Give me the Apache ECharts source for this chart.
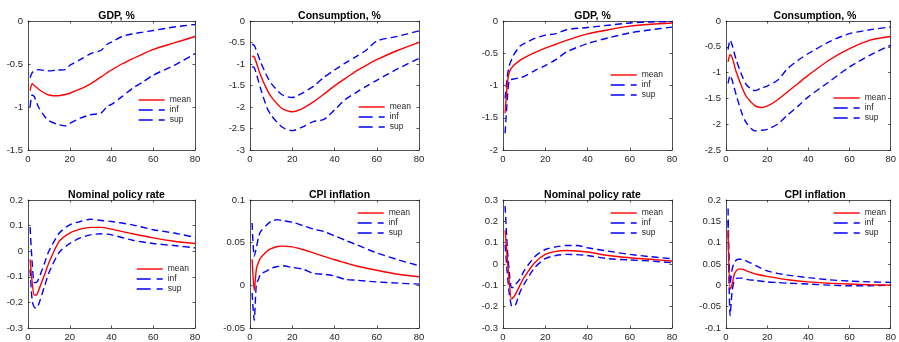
<!DOCTYPE html>
<html>
<head>
<meta charset="utf-8">
<script src="https://cdn.jsdelivr.net/npm/echarts@6/dist/echarts.min.js"></script>
<style>html,body{margin:0;padding:0;background:#fff}#c{width:899px;height:342px}</style>
</head>
<body>
<div id="c"></div>
<script>
// ---- Data (horizon, mean, upper band "inf", lower band "sup") ----
const gdpA_x    = [1, 2, 3, 5, 8, 10, 14, 18, 20, 25, 30, 35, 38, 40, 45, 50, 55, 60, 70, 80];
const gdpA_mean = [-0.81, -0.73, -0.75, -0.79, -0.84, -0.86, -0.87, -0.855, -0.84, -0.79, -0.73, -0.65, -0.6, -0.57, -0.5, -0.44, -0.385, -0.33, -0.255, -0.18];
const gdpA_inf  = [-0.66, -0.6, -0.58, -0.565, -0.575, -0.58, -0.57, -0.565, -0.515, -0.45, -0.38, -0.34, -0.27, -0.245, -0.18, -0.15, -0.13, -0.11, -0.07, -0.04];
const gdpA_sup  = [-1.0, -0.86, -0.88, -1.0, -1.11, -1.16, -1.2, -1.22, -1.19, -1.13, -1.09, -1.07, -0.99, -0.97, -0.88, -0.785, -0.71, -0.63, -0.515, -0.38];

const conA_x    = [1, 2, 5, 8, 10, 15, 20, 25, 30, 35, 40, 45, 50, 55, 60, 70, 80];
const conA_mean = [-0.82, -0.835, -1.26, -1.59, -1.76, -2.03, -2.11, -2.03, -1.88, -1.7, -1.51, -1.34, -1.17, -1.03, -0.9, -0.68, -0.495];
const conA_inf  = [-0.54, -0.565, -0.95, -1.28, -1.45, -1.71, -1.78, -1.67, -1.52, -1.31, -1.14, -0.98, -0.835, -0.68, -0.465, -0.355, -0.23];
const conA_sup  = [-1.07, -1.08, -1.57, -2.01, -2.19, -2.46, -2.55, -2.46, -2.34, -2.29, -2.07, -1.83, -1.67, -1.52, -1.38, -1.11, -0.87];

const gdpB_x    = [1, 2, 3, 5, 8, 10, 15, 20, 25, 30, 40, 50, 60, 70, 80];
const gdpB_mean = [-1.43, -0.99, -0.79, -0.69, -0.61, -0.57, -0.49, -0.42, -0.36, -0.3, -0.2, -0.135, -0.08, -0.05, -0.03];
const gdpB_inf  = [-1.2, -0.87, -0.69, -0.53, -0.39, -0.35, -0.27, -0.22, -0.195, -0.135, -0.1, -0.065, -0.03, -0.015, -0.01];
const gdpB_sup  = [-1.74, -1.23, -0.92, -0.9, -0.88, -0.86, -0.77, -0.69, -0.6, -0.48, -0.35, -0.26, -0.185, -0.135, -0.095];

const conB_x    = [1, 2, 3, 5, 8, 10, 14, 17, 20, 25, 30, 35, 40, 50, 60, 70, 80];
const conB_mean = [-0.79, -0.65, -0.71, -0.99, -1.31, -1.47, -1.64, -1.675, -1.65, -1.53, -1.37, -1.21, -1.05, -0.76, -0.535, -0.37, -0.3];
const conB_inf  = [-0.555, -0.37, -0.47, -0.76, -1.08, -1.24, -1.35, -1.3, -1.26, -1.15, -0.92, -0.76, -0.63, -0.405, -0.245, -0.17, -0.115];
const conB_sup  = [-1.21, -1.05, -1.15, -1.44, -1.82, -1.98, -2.13, -2.12, -2.1, -2.0, -1.82, -1.65, -1.47, -1.18, -0.89, -0.66, -0.47];

const rateA_x    = [1, 2, 3, 4, 5, 8, 10, 15, 20, 25, 30, 35, 40, 50, 60, 70, 80];
const rateA_mean = [-0.032, -0.122, -0.171, -0.171, -0.155, -0.09, -0.045, 0.039, 0.071, 0.086, 0.093, 0.093, 0.086, 0.068, 0.052, 0.039, 0.03];
const rateA_inf  = [0.094, -0.045, -0.122, -0.122, -0.11, -0.045, 0.0, 0.071, 0.103, 0.116, 0.125, 0.12, 0.116, 0.103, 0.084, 0.071, 0.054];
const rateA_sup  = [-0.071, -0.193, -0.219, -0.223, -0.21, -0.135, -0.084, -0.004, 0.03, 0.052, 0.064, 0.068, 0.064, 0.043, 0.03, 0.022, 0.013];

const cpiA_x    = [1, 2, 3, 4, 5, 8, 10, 13, 15, 20, 25, 30, 35, 40, 45, 50, 60, 70, 80];
const cpiA_mean = [0.0304, -0.006, 0.019, 0.027, 0.032, 0.040, 0.043, 0.0455, 0.046, 0.045, 0.042, 0.038, 0.034, 0.030, 0.0265, 0.023, 0.0177, 0.013, 0.010];
const cpiA_inf  = [0.073, 0.034, 0.044, 0.056, 0.063, 0.071, 0.075, 0.077, 0.076, 0.074, 0.070, 0.066, 0.063, 0.058, 0.053, 0.048, 0.038, 0.030, 0.023];
const cpiA_sup  = [-0.009, -0.041, 0.001, 0.007, 0.013, 0.017, 0.020, 0.022, 0.023, 0.021, 0.019, 0.014, 0.013, 0.011, 0.007, 0.006, 0.004, 0.0026, 0.0014];

const rateB_x    = [1, 2, 3, 4, 5, 6, 8, 10, 15, 20, 25, 30, 35, 40, 50, 60, 70, 80];
const rateB_mean = [0.158, 0.03, -0.087, -0.164, -0.156, -0.14, -0.10, -0.063, 0.006, 0.045, 0.059, 0.063, 0.061, 0.056, 0.04, 0.029, 0.022, 0.014];
const rateB_inf  = [0.272, 0.083, -0.04, -0.11, -0.11, -0.095, -0.071, -0.032, 0.034, 0.068, 0.08, 0.087, 0.087, 0.076, 0.06, 0.045, 0.034, 0.025];
const rateB_sup  = [0.091, -0.04, -0.141, -0.195, -0.2, -0.19, -0.133, -0.094, -0.017, 0.025, 0.04, 0.045, 0.044, 0.04, 0.025, 0.019, 0.014, 0.006];

const cpiB_x    = [1, 2, 3, 4, 5, 6, 8, 10, 15, 20, 25, 30, 40, 50, 60, 70, 80];
const cpiB_mean = [0.13, -0.009, 0.003, 0.026, 0.034, 0.038, 0.038, 0.034, 0.026, 0.021, 0.017, 0.013, 0.008, 0.005, 0.003, 0.0013, 0.0005];
const cpiB_inf  = [0.18, 0.003, 0.038, 0.053, 0.059, 0.061, 0.061, 0.057, 0.045, 0.034, 0.028, 0.024, 0.018, 0.013, 0.010, 0.008, 0.007];
const cpiB_sup  = [0.15, -0.071, -0.013, 0.011, 0.016, 0.017, 0.017, 0.014, 0.011, 0.008, 0.0065, 0.005, 0.003, 0.0005, -0.001, -0.001, 0.001];

const titles = ['GDP, %', 'Consumption, %', 'GDP, %', 'Consumption, %',
                'Nominal policy rate', 'CPI inflation', 'Nominal policy rate', 'CPI inflation'];
const xTicks = [0, 20, 40, 60, 80];
const yRanges = [[-1.5, 0, 0.5], [-3, 0, 0.5], [-2, 0, 0.5], [-2.5, 0, 0.5],
                 [-0.3, 0.2, 0.1], [-0.05, 0.1, 0.05], [-0.3, 0.3, 0.1], [-0.1, 0.2, 0.05]];
const seriesNames = ['mean', 'inf', 'sup'];

const panels = [
  [gdpA_x, gdpA_mean, gdpA_inf, gdpA_sup],
  [conA_x, conA_mean, conA_inf, conA_sup],
  [gdpB_x, gdpB_mean, gdpB_inf, gdpB_sup],
  [conB_x, conB_mean, conB_inf, conB_sup],
  [rateA_x, rateA_mean, rateA_inf, rateA_sup],
  [cpiA_x, cpiA_mean, cpiA_inf, cpiA_sup],
  [rateB_x, rateB_mean, rateB_inf, rateB_sup],
  [cpiB_x, cpiB_mean, cpiB_inf, cpiB_sup]
];

// ---- Layout ----
const gridBoxes = [
  [28, 21, 167, 129], [250, 21, 169, 129], [503, 21, 169, 129], [726, 21, 168, 129],
  [28, 200, 167, 129], [250, 200, 169, 129], [503, 200, 169, 129], [726, 200, 168, 129]
];
const legendPos = [[138, 95], [358, 102], [610, 70], [833, 93],
                   [136, 264], [357, 208], [610, 208], [833, 208]];

const FONT = 'Liberation Sans, Arial, Helvetica, sans-serif';
const AXC = '#262626';

const grid = [], xAxis = [], yAxis = [], series = [], title = [], legend = [];
panels.forEach((p, i) => {
  const [l, t, w, h] = gridBoxes[i];
  grid.push({left: l, top: t, width: w, height: h, containLabel: false});
  title.push({text: titles[i], left: l + w / 2, top: t - 15, textAlign: 'center',
    textStyle: {fontFamily: FONT, fontSize: 10.5, fontWeight: 'bold', color: '#000'}});
  const mk = () => ({
    axisLine: {show: true, onZero: false, lineStyle: {color: AXC, width: 0.8}},
    axisTick: {show: true, inside: true, length: 2.5, lineStyle: {color: AXC, width: 0.8}},
    splitLine: {show: false}
  });
  xAxis.push(Object.assign({type: 'value', gridIndex: i, min: 0, max: 80, interval: 20, position: 'bottom',
    axisLabel: {fontFamily: FONT, fontSize: 9.5, color: AXC, margin: 4}}, mk()));
  xAxis.push(Object.assign({type: 'value', gridIndex: i, min: 0, max: 80, interval: 20, position: 'top',
    axisLabel: {show: false}}, mk()));
  const [ymin, ymax, yint] = yRanges[i];
  yAxis.push(Object.assign({type: 'value', gridIndex: i, min: ymin, max: ymax, interval: yint, position: 'left',
    axisLabel: {fontFamily: FONT, fontSize: 9.5, color: AXC, margin: 5}}, mk()));
  yAxis.push(Object.assign({type: 'value', gridIndex: i, min: ymin, max: ymax, interval: yint, position: 'right',
    axisLabel: {show: false}}, mk()));
  const xs = p[0];
  for (let k = 0; k < 3; k++) {
    const ys = p[k + 1];
    series.push({
      name: seriesNames[k], type: 'line', xAxisIndex: 2 * i, yAxisIndex: 2 * i,
      data: xs.map((x, j) => [x, ys[j]]),
      symbol: 'none', smooth: 0.25, animation: false, silent: true,
      lineStyle: k === 0 ? {color: '#ff0000', width: 1.4}
                         : {color: '#0000ff', width: 1.4, type: [7, 4]},
      itemStyle: {color: k === 0 ? '#ff0000' : '#0000ff'},
      z: k === 0 ? 3 : 2
    });
  }
  legend.push({
    data: [
      {name: 'mean'},
      {name: 'inf', lineStyle: {type: [14, 6]}},
      {name: 'sup', lineStyle: {type: [14, 6]}}
    ],
    orient: 'vertical', left: legendPos[i][0], top: legendPos[i][1],
    itemWidth: 26, itemHeight: 6, itemGap: 0, padding: 0, selectedMode: false,
    itemStyle: {opacity: 0},
    lineStyle: {width: 1.4},
    textStyle: {fontFamily: FONT, fontSize: 8.5, color: AXC, lineHeight: 10}
  });
});

const chart = echarts.init(document.getElementById('c'), null, {renderer: 'canvas'});
chart.setOption({animation: false, backgroundColor: '#fff', title, grid, xAxis, yAxis, series, legend});
</script>
</body>
</html>
